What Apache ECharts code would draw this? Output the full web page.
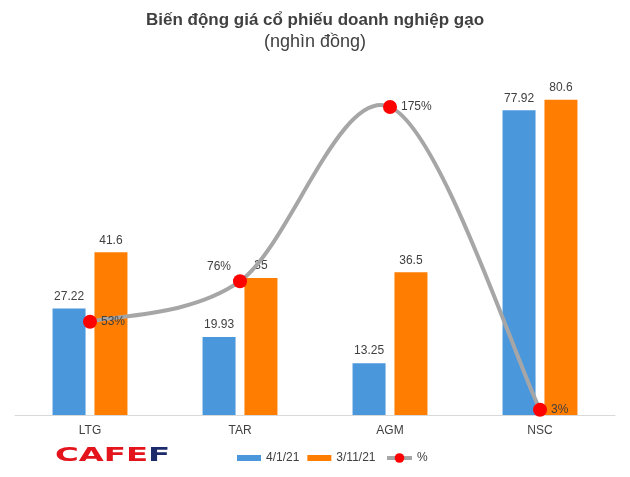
<!DOCTYPE html>
<html><head><meta charset="utf-8">
<script src="https://cdn.jsdelivr.net/npm/echarts@6/dist/echarts.min.js"></script>
<style>html,body{margin:0;padding:0;background:#fff}#c{width:630px;height:477px}</style>
</head><body><div id="c"></div>
<script>
const categories = ['LTG', 'TAR', 'AGM', 'NSC'];
const price_4_1_21 = [27.22, 19.93, 13.25, 77.92];
const price_3_11_21 = [41.6, 35, 36.5, 80.6];
const pctChange = [53, 76, 175, 3];
const seriesNames = ['4/1/21', '3/11/21', '%'];

const chart = echarts.init(document.getElementById('c'));
const font = 'Liberation Sans, Arial, sans-serif';

// Catmull-Rom style smoothed curve (spreadsheet-like smoothing), positioned via the axes
function renderCurve(params, api) {
  if (params.dataIndex !== 0) return null;
  const pts = pctChange.map((v, i) => api.coord([i, v]));
  const n = pts.length;
  const P = i => pts[Math.max(0, Math.min(n - 1, i))];
  const children = [];
  for (let i = 0; i < n - 1; i++) {
    const p0 = P(i - 1), p1 = P(i), p2 = P(i + 1), p3 = P(i + 2);
    children.push({
      type: 'bezierCurve',
      shape: {
        x1: p1[0], y1: p1[1], x2: p2[0], y2: p2[1],
        cpx1: p1[0] + (p2[0] - p0[0]) / 6, cpy1: p1[1] + (p2[1] - p0[1]) / 6,
        cpx2: p2[0] - (p3[0] - p1[0]) / 6, cpy2: p2[1] - (p3[1] - p1[1]) / 6
      },
      style: { stroke: '#a6a6a6', lineWidth: 4, fill: 'none', lineCap: 'round' }
    });
  }
  return { type: 'group', children };
}

chart.setOption({
  animation: false,
  backgroundColor: '#fff',
  title: {
    text: 'Biến động giá cổ phiếu doanh nghiệp gạo',
    subtext: '(nghìn đồng)',
    left: 'center', top: 7, itemGap: 4,
    textStyle: { fontFamily: font, fontSize: 17, fontWeight: 'bold', color: '#404040' },
    subtextStyle: { fontFamily: font, fontSize: 18, color: '#404040' }
  },
  grid: { left: 15, right: 15, top: 63, bottom: 62 },
  legend: [
    {
      left: 232, top: 447, itemWidth: 24, itemHeight: 6, itemGap: 8,
      textStyle: { fontFamily: font, fontSize: 12, color: '#404040' },
      data: [
        { name: seriesNames[0], icon: 'rect' },
        { name: seriesNames[1], icon: 'rect' }
      ]
    },
    {
      left: 380, top: 447, itemWidth: 25, itemHeight: 12,
      textStyle: { fontFamily: font, fontSize: 12, color: '#404040' },
      data: [
        { name: seriesNames[2], lineStyle: { width: 4, color: '#a6a6a6', opacity: 1 }, itemStyle: { color: '#ff0000' } }
      ]
    }
  ],
  xAxis: {
    type: 'category', data: categories,
    axisTick: { show: false },
    axisLine: { lineStyle: { color: '#d9d9d9', width: 1 } },
    axisLabel: { fontFamily: font, fontSize: 12, color: '#404040', margin: 10 }
  },
  yAxis: [
    { type: 'value', min: 0, max: 90, show: false, splitLine: { show: false } },
    { type: 'value', min: 0, max: 200, show: false, splitLine: { show: false } }
  ],
  graphic: [
    {
      type: 'text', x: 55, y: 446, scaleX: 1.62,
      style: {
        text: '{r|CAFE}{b|F}',
        rich: {
          r: { fill: '#e3141b', font: '900 20px DejaVu Sans' },
          b: { fill: '#1b2a6b', font: '900 20px DejaVu Sans' }
        }
      }
    }
  ],
  series: [
    {
      name: seriesNames[0], type: 'bar', data: price_4_1_21, yAxisIndex: 0,
      barWidth: 33, barGap: '27%',
      itemStyle: { color: '#4a97dc' },
      label: { show: true, position: 'top', distance: 6, fontFamily: font, fontSize: 12, color: '#404040' }
    },
    {
      name: seriesNames[1], type: 'bar', data: price_3_11_21, yAxisIndex: 0,
      barWidth: 33,
      itemStyle: { color: '#ff7d00' },
      label: { show: true, position: 'top', distance: 6, fontFamily: font, fontSize: 12, color: '#404040' }
    },
    {
      name: 'curve', type: 'custom', yAxisIndex: 1, z: 4, silent: true,
      data: pctChange.map((v, i) => [i, v]),
      renderItem: renderCurve
    },
    {
      name: seriesNames[2], type: 'line', yAxisIndex: 1, z: 5,
      data: pctChange.map((v, i) => ({
        value: v,
        label: i === 1
          ? { position: 'left', offset: [2, -15] }
          : { position: 'right' }
      })),
      lineStyle: { color: '#a6a6a6', width: 4, opacity: 0 },
      itemStyle: { color: '#ff0000' },
      symbol: 'circle', symbolSize: 14,
      label: { show: true, formatter: '{c}%', distance: 4, fontFamily: font, fontSize: 12, color: '#404040' }
    }
  ]
});
</script></body></html>
